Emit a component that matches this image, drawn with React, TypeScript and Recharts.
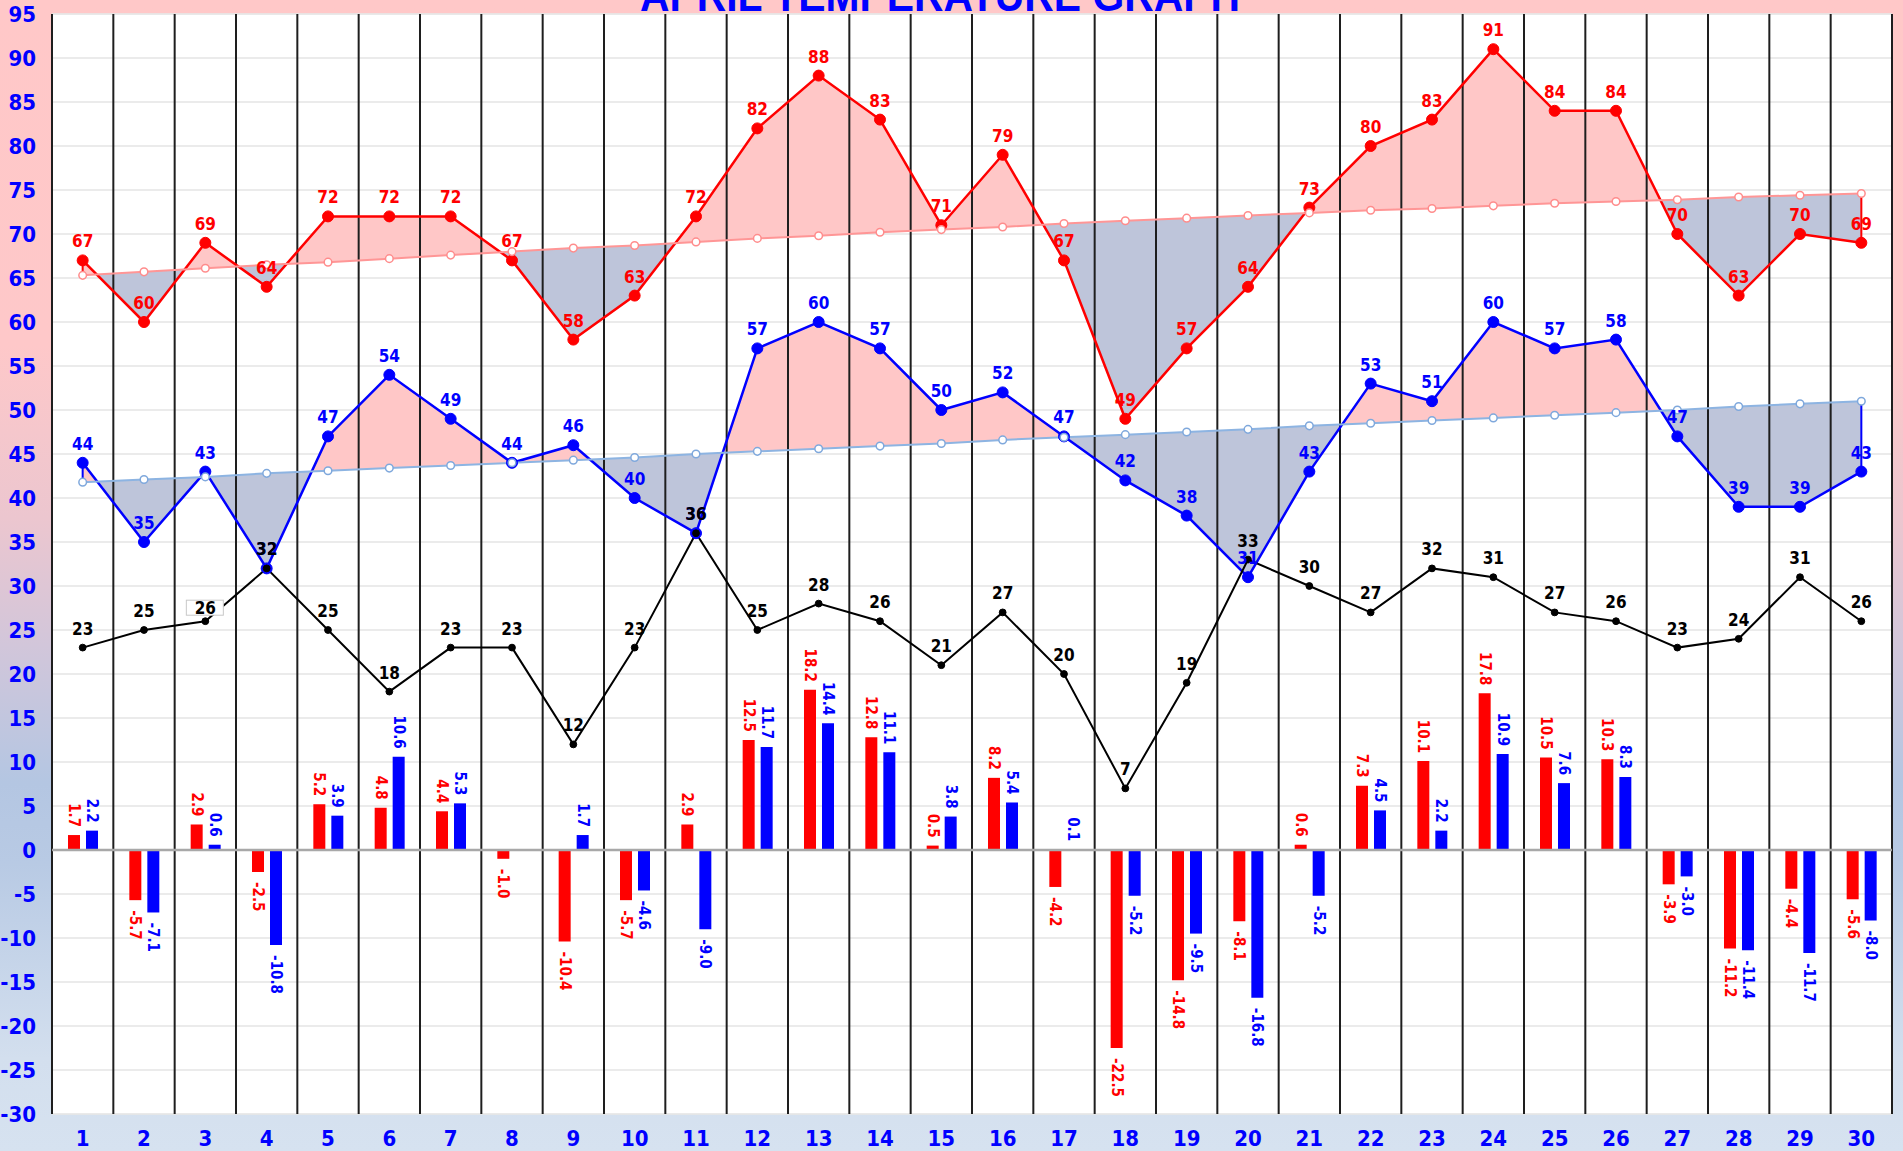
import React from 'react';
import {
  ComposedChart,
  Line,
  Area,
  Bar,
  XAxis,
  YAxis,
  CartesianGrid,
  ReferenceLine,
  LabelList,
} from 'recharts';

const days = [1, 2, 3, 4, 5, 6, 7, 8, 9, 10, 11, 12, 13, 14, 15, 16, 17, 18, 19, 20, 21, 22, 23, 24, 25, 26, 27, 28, 29, 30];
const highTemps = [67, 60, 69, 64, 72, 72, 72, 67, 58, 63, 72, 82, 88, 83, 71, 79, 67, 49, 57, 64, 73, 80, 83, 91, 84, 84, 70, 63, 70, 69];
const normalHighs = [65.3, 65.7, 66.1, 66.5, 66.8, 67.2, 67.6, 68.0, 68.4, 68.7, 69.1, 69.5, 69.8, 70.2, 70.5, 70.8, 71.2, 71.5, 71.8, 72.1, 72.4, 72.7, 72.9, 73.2, 73.5, 73.7, 73.9, 74.2, 74.4, 74.6];
const lowTemps = [44, 35, 43, 32, 47, 54, 49, 44, 46, 40, 36, 57, 60, 57, 50, 52, 47, 42, 38, 31, 43, 53, 51, 60, 57, 58, 47, 39, 39, 43];
const normalLows = [41.8, 42.1, 42.4, 42.8, 43.1, 43.4, 43.7, 44.0, 44.3, 44.6, 45.0, 45.3, 45.6, 45.9, 46.2, 46.6, 46.9, 47.2, 47.5, 47.8, 48.2, 48.5, 48.8, 49.1, 49.4, 49.7, 50.0, 50.4, 50.7, 51.0];
const blackSeries = [23, 25, 26, 32, 25, 18, 23, 23, 12, 23, 36, 25, 28, 26, 21, 27, 20, 7, 19, 33, 30, 27, 32, 31, 27, 26, 23, 24, 31, 26];
const highDepartures = [1.7, -5.7, 2.9, -2.5, 5.2, 4.8, 4.4, -1.0, -10.4, -5.7, 2.9, 12.5, 18.2, 12.8, 0.5, 8.2, -4.2, -22.5, -14.8, -8.1, 0.6, 7.3, 10.1, 17.8, 10.5, 10.3, -3.9, -11.2, -4.4, -5.6];
const lowDepartures = [2.2, -7.1, 0.6, -10.8, 3.9, 10.6, 5.3, 0.0, 1.7, -4.6, -9.0, 11.7, 14.4, 11.1, 3.8, 5.4, 0.1, -5.2, -9.5, -16.8, -5.2, 4.5, 2.2, 10.9, 7.6, 8.3, -3.0, -11.4, -11.7, -8.0];
const yTicks = [-30, -25, -20, -15, -10, -5, 0, 5, 10, 15, 20, 25, 30, 35, 40, 45, 50, 55, 60, 65, 70, 75, 80, 85, 90, 95];
const title = 'APRIL  TEMPERATURE  GRAPH';

const Y_MIN = -30;
const Y_MAX = 95;
const minorTicks: number[] = [];
for (let v = Y_MIN; v <= Y_MAX; v++) minorTicks.push(v);
const bandEdges = [0, ...days].map((d) => d + 0.5);

const FONT = "'Liberation Sans Narrow', 'Arial Narrow', 'DejaVu Sans Condensed', 'Liberation Sans', Arial, sans-serif";
const RED = '#FF0000';
const BLUE = '#0000FF';
const PINK_FILL = '#FFC7C7';
const GRAY_FILL = '#BEC5DA';

const rows = days.map((d, i) => ({
  x: d,
  high: highTemps[i],
  normalHigh: normalHighs[i],
  low: lowTemps[i],
  normalLow: normalLows[i],
  other: blackSeries[i],
  hiDep: highDepartures[i],
  loDep: lowDepartures[i],
}));

// fill bands between an actual series and its normal, split where they cross
function bandRows(actual: number[], normal: number[]) {
  const out: { x: number; above: number[]; below: number[] }[] = [];
  for (let i = 0; i < days.length; i++) {
    const a = actual[i];
    const n = normal[i];
    out.push({ x: days[i], above: [n, Math.max(a, n)], below: [Math.min(a, n), n] });
    if (i < days.length - 1) {
      const d0 = a - n;
      const d1 = actual[i + 1] - normal[i + 1];
      if (d0 * d1 < 0) {
        const t = d0 / (d0 - d1);
        const cx = days[i] + t * (days[i + 1] - days[i]);
        const cy = n + t * (normal[i + 1] - n);
        out.push({ x: cx, above: [cy, cy], below: [cy, cy] });
      }
    }
  }
  return out;
}

const highBand = bandRows(highTemps, normalHighs);
const lowBand = bandRows(lowTemps, normalLows);

const pointLabel = (color: string, boxIndex = -1) => (props: any) => {
  const { x, y, value, index } = props;
  if (x == null || y == null) return null;
  const boxed = index === boxIndex;
  const by = boxed ? y - 7 : y - 13;
  return (
    <g>
      {boxed && <rect x={x - 19} y={by - 14} width={37} height={15} fill="#FFFFFF" stroke="#C8C8C8" strokeWidth={1} />}
      <text x={x} y={by} textAnchor="middle" fill={color} fontSize={17} fontWeight="bold" fontFamily={FONT}>
        {value}
      </text>
    </g>
  );
};

const barLabel = (color: string) => (props: any) => {
  const { x, y, width, height, value } = props;
  if (x == null || y == null) return null;
  const v = Number(value);
  const cx = x + (width || 0) / 2;
  const h = height || 0;
  const top = Math.min(y, y + h);
  const bottom = Math.max(y, y + h);
  const pos = v >= 0;
  const ay = pos ? top - 8 : bottom + 10;
  return (
    <text
      transform={`translate(${cx},${ay}) rotate(90)`}
      textAnchor={pos ? 'end' : 'start'}
      dominantBaseline="central"
      fill={color}
      fontSize={15}
      fontWeight="bold"
      fontFamily={FONT}
    >
      {v.toFixed(1)}
    </text>
  );
};

const YTick = (p: any) => (
  <text x={p.x} y={p.y} dy={8} textAnchor="end" fill={BLUE} fontSize={22} fontWeight="bold" fontFamily={FONT}>
    {p.payload.value}
  </text>
);

const XTick = (p: any) => (
  <text x={p.x} y={p.y} dy={32} textAnchor="middle" fill={BLUE} fontSize={22} fontWeight="bold" fontFamily={FONT}>
    {p.payload.value}
  </text>
);

export default function App() {
  return (
    <div
      style={{
        position: 'absolute',
        left: 0,
        top: 0,
        width: 1903,
        height: 1151,
        overflow: 'hidden',
        background:
          'linear-gradient(to bottom, #FFC8C8 0%, #FEC8C9 30%, #ECC6CF 45%, #D2C6DA 56%, #B4C6E2 68%, #B8CAE4 75%, #D3DFEE 92%, #D6E2F0 100%)',
      }}
    >
      <ComposedChart
        width={1903}
        height={1151}
        data={rows}
        margin={{ top: 14, right: 11, bottom: 0, left: 0 }}
        barGap={6}
      >
        <YAxis yAxisId="minor" hide domain={[Y_MIN, Y_MAX]} ticks={minorTicks} type="number" />
        <CartesianGrid yAxisId="minor" vertical={false} stroke="#F2F2F2" strokeWidth={1} fill="#FFFFFF" />
        <CartesianGrid vertical={false} stroke="#E4E4E4" strokeWidth={1.5} />
        <XAxis
          dataKey="x"
          type="number"
          domain={[0.5, 30.5]}
          ticks={days}
          interval={0}
          allowDataOverflow
          height={37}
          axisLine={false}
          tickLine={false}
          tickSize={0}
          tickMargin={0}
          tick={<XTick />}
        />
        <XAxis xAxisId="cat" dataKey="x" type="category" hide />
        <YAxis
          domain={[Y_MIN, Y_MAX]}
          ticks={yTicks}
          interval={0}
          type="number"
          width={52}
          axisLine={false}
          tickLine={false}
          tickSize={0}
          tickMargin={16}
          tick={<YTick />}
        />

        <Area data={highBand} dataKey="above" type="linear" fill={PINK_FILL} fillOpacity={1} stroke="none" isAnimationActive={false} />
        <Area data={highBand} dataKey="below" type="linear" fill={GRAY_FILL} fillOpacity={1} stroke="none" isAnimationActive={false} />
        <Area data={lowBand} dataKey="above" type="linear" fill={PINK_FILL} fillOpacity={1} stroke="none" isAnimationActive={false} />
        <Area data={lowBand} dataKey="below" type="linear" fill={GRAY_FILL} fillOpacity={1} stroke="none" isAnimationActive={false} />

        {bandEdges.map((e) => (
          <ReferenceLine key={e} x={e} stroke="#1E1E1E" strokeWidth={2} ifOverflow="visible" />
        ))}
        <ReferenceLine y={0} stroke="#A8A8A8" strokeWidth={2.5} />

        <ReferenceLine
          segment={[{ x: days[29], y: normalHighs[29] }, { x: days[29], y: highTemps[29] }]}
          stroke={RED}
          strokeWidth={2}
        />
        <ReferenceLine
          segment={[{ x: days[29], y: normalLows[29] }, { x: days[29], y: lowTemps[29] }]}
          stroke={BLUE}
          strokeWidth={2}
        />
        <ReferenceLine
          segment={[{ x: days[0], y: highTemps[0] }, { x: days[0], y: normalHighs[0] }]}
          stroke={RED}
          strokeWidth={2}
        />
        <ReferenceLine
          segment={[{ x: days[0], y: lowTemps[0] }, { x: days[0], y: normalLows[0] }]}
          stroke={BLUE}
          strokeWidth={2}
        />

        <Bar xAxisId="cat" dataKey="hiDep" fill={RED} barSize={12} isAnimationActive={false}>
          <LabelList dataKey="hiDep" content={barLabel(RED)} />
        </Bar>
        <Bar xAxisId="cat" dataKey="loDep" fill={BLUE} barSize={12} isAnimationActive={false}>
          <LabelList dataKey="loDep" content={barLabel(BLUE)} />
        </Bar>

        <Line
          dataKey="low"
          type="linear"
          stroke={BLUE}
          strokeWidth={2.5}
          dot={{ r: 5.5, fill: BLUE, stroke: BLUE, strokeWidth: 1 }}
          isAnimationActive={false}
        >
          <LabelList dataKey="low" content={pointLabel(BLUE)} />
        </Line>
        <Line
          dataKey="high"
          type="linear"
          stroke={RED}
          strokeWidth={2.5}
          dot={{ r: 5.5, fill: RED, stroke: RED, strokeWidth: 1 }}
          isAnimationActive={false}
        >
          <LabelList dataKey="high" content={pointLabel(RED)} />
        </Line>
        <Line
          dataKey="normalHigh"
          type="linear"
          stroke="#FF9696"
          strokeWidth={2}
          dot={{ r: 3.8, fill: '#FFFFFF', stroke: '#FF8C8C', strokeWidth: 1.5 }}
          isAnimationActive={false}
        />
        <Line
          dataKey="normalLow"
          type="linear"
          stroke="#8DB4E2"
          strokeWidth={2}
          dot={{ r: 3.8, fill: '#FFFFFF', stroke: '#7FA8DC', strokeWidth: 1.5 }}
          isAnimationActive={false}
        />
        <Line
          dataKey="other"
          type="linear"
          stroke="#000000"
          strokeWidth={2}
          dot={{ r: 3.4, fill: '#000000', stroke: '#000000', strokeWidth: 1 }}
          isAnimationActive={false}
        >
          <LabelList dataKey="other" content={pointLabel('#000000', 2)} />
        </Line>
      </ComposedChart>
      <svg style={{ position: 'absolute', left: 0, top: 0 }} width={1903} height={40}>
        <text
          x={940}
          y={11}
          textAnchor="middle"
          fill={BLUE}
          fontSize={44}
          fontWeight="bold"
          fontFamily="'Liberation Sans', Arial, sans-serif"
          textLength={600}
          lengthAdjust="spacingAndGlyphs"
        >
          {title}
        </text>
      </svg>
    </div>
  );
}
